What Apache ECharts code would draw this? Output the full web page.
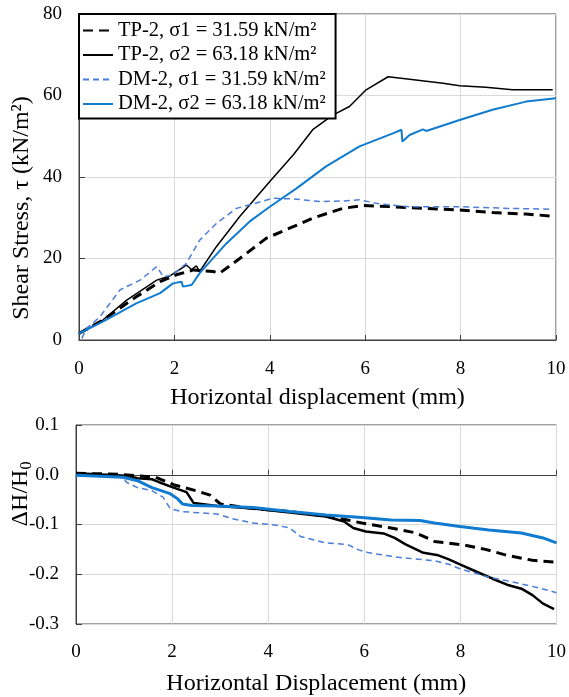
<!DOCTYPE html>
<html>
<head>
<meta charset="utf-8">
<script src="https://cdn.jsdelivr.net/npm/echarts@6/dist/echarts.min.js"></script>
<style>
  html, body { margin: 0; padding: 0; background: #fff; }
  #chart { width: 569px; height: 697px; }
</style>
</head>
<body>
<div id="chart"></div>
<script>
// series names
const names = [
    'TP-2, σ1 = 31.59 kN/m²',
    'TP-2, σ2 = 63.18 kN/m²',
    'DM-2, σ1 = 31.59 kN/m²',
    'DM-2, σ2 = 63.18 kN/m²'
];

const xTicks = [0, 2, 4, 6, 8, 10];

// shear stress (kN/m2) vs horizontal displacement (mm)
const tauTP1 = [[0, 1.6], [0.5, 4.9], [1.2, 10.6], [1.7, 14.3], [2.04, 16.0], [2.4, 17.2], [2.81, 16.8],
    [2.95, 16.4], [3.37, 20.0], [3.93, 25.0], [4.49, 27.8], [4.9, 29.9], [5.53, 32.3], [5.95, 33.0],
    [6.58, 32.7], [7.28, 32.3], [7.98, 31.9], [8.67, 31.3], [9.37, 30.9], [9.93, 30.4]];
const tauTP2 = [[0, 1.5], [0.5, 4.9], [1.0, 9.8], [1.63, 14.7], [1.9, 15.7], [2.25, 18.4], [2.36, 17.3],
    [2.46, 18.2], [2.53, 16.8], [2.88, 22.9], [3.37, 30.3], [4.0, 38.9], [4.49, 45.4], [4.9, 51.6],
    [5.32, 55.2], [5.67, 57.3], [6.02, 61.4], [6.48, 64.6], [6.93, 64.0], [7.63, 63.0], [7.98, 62.4],
    [8.53, 62.0], [9.09, 61.4], [9.93, 61.4]];
const tauDM1 = [[0.06, 0.4], [0.16, 2.9], [0.44, 5.7], [0.86, 12.3], [1.28, 14.7], [1.63, 18.0], [1.77, 15.5],
    [1.97, 16.0], [2.25, 18.8], [2.53, 24.5], [2.88, 28.6], [3.3, 32.3], [3.65, 33.4], [4.07, 34.8],
    [4.49, 34.6], [5.05, 34.0], [5.53, 34.1], [5.88, 34.4], [6.3, 33.4], [6.93, 32.7], [7.98, 32.7],
    [9.02, 32.3], [9.93, 32.1]];
const tauDM2 = [[0, 1.6], [0.5, 4.5], [1.2, 9.0], [1.7, 11.5], [1.97, 13.9], [2.15, 14.3], [2.18, 13.1],
    [2.36, 13.5], [2.53, 16.4], [3.09, 23.7], [3.58, 29.1], [4.0, 32.7], [4.56, 37.2], [5.18, 42.6],
    [5.88, 47.5], [6.58, 50.7], [6.76, 51.6], [6.78, 48.7], [6.93, 50.3], [7.21, 51.7], [7.28, 51.3],
    [7.98, 54.0], [8.67, 56.5], [9.37, 58.5], [10.0, 59.3]];

// dH/H0 vs horizontal displacement (mm)
const dhTP1 = [[0, 0.003], [0.9, 0.001], [1.66, -0.005], [2.03, -0.02], [2.49, -0.032], [2.79, -0.041],
    [3.01, -0.059], [3.69, -0.068], [4.45, -0.074], [5.2, -0.083], [5.65, -0.091], [5.95, -0.097],
    [6.56, -0.107], [7.08, -0.117], [7.46, -0.134], [8.06, -0.141], [8.52, -0.15], [8.97, -0.162],
    [9.5, -0.172], [10, -0.176]];
const dhTP2 = [[0, 0.003], [1.05, -0.002], [1.28, -0.007], [1.58, -0.009], [1.73, -0.015], [2.03, -0.026],
    [2.3, -0.035], [2.45, -0.057], [2.49, -0.059], [2.94, -0.063], [3.69, -0.068], [4.45, -0.076],
    [5.2, -0.084], [5.58, -0.094], [5.77, -0.107], [6.03, -0.114], [6.4, -0.118], [6.63, -0.127],
    [6.86, -0.14], [7.23, -0.157], [7.54, -0.162], [7.76, -0.17], [7.99, -0.18], [8.36, -0.196],
    [8.67, -0.209], [8.97, -0.221], [9.27, -0.229], [9.5, -0.242], [9.72, -0.259], [9.95, -0.27]];
const dhDM1 = [[0, -0.001], [0.98, -0.005], [1.05, -0.015], [1.28, -0.026], [1.58, -0.032], [1.81, -0.045],
    [1.96, -0.068], [2.19, -0.074], [2.94, -0.079], [3.24, -0.088], [3.69, -0.097], [4.14, -0.101],
    [4.45, -0.107], [4.67, -0.124], [5.2, -0.137], [5.65, -0.14], [5.88, -0.151], [6.1, -0.157],
    [6.71, -0.166], [7.46, -0.173], [7.76, -0.18], [7.99, -0.189], [8.59, -0.206], [8.97, -0.213],
    [9.57, -0.226], [10, -0.237]];
const dhDM2 = [[0, -0.001], [0.98, -0.005], [1.28, -0.012], [1.58, -0.026], [1.96, -0.038], [2.11, -0.048],
    [2.22, -0.059], [2.41, -0.062], [2.94, -0.063], [3.69, -0.066], [4.45, -0.074], [5.2, -0.081],
    [5.95, -0.086], [6.56, -0.091], [7.16, -0.092], [7.46, -0.097], [7.99, -0.104], [8.59, -0.111],
    [9.27, -0.117], [9.72, -0.127], [10, -0.137]];

const serif = '"Liberation Serif", "Times New Roman", serif';
const axisColor = '#404040';
const gridColor = '#d9d9d9';
const black = '#000000';
const blueDash = '#4a7ed8';
const blueSolid = '#107bcf';

function xAxisOpt(idx, name, gap, margin) {
    return {
        type: 'value', gridIndex: idx, min: 0, max: 10, interval: 2,
        name: name, nameLocation: 'middle', nameGap: gap,
        nameTextStyle: { fontFamily: serif, fontSize: 24, color: black },
        axisLine: { show: true, lineStyle: { color: axisColor, width: 1 } },
        axisTick: { show: true, inside: true, length: 5, lineStyle: { color: axisColor } },
        axisLabel: { fontFamily: serif, fontSize: 19, color: black, margin: margin,
            formatter: v => xTicks.includes(v) ? String(v) : '' },
        splitLine: { show: true, lineStyle: { color: gridColor, width: 1 } }
    };
}

function yAxisOpt(idx, min, max, interval, fmt) {
    return {
        type: 'value', gridIndex: idx, min: min, max: max, interval: interval,
        axisLine: { show: true, lineStyle: { color: axisColor, width: 1 } },
        axisTick: { show: true, inside: true, length: 6, lineStyle: { color: axisColor } },
        axisLabel: { fontFamily: serif, fontSize: 19, color: black, margin: 17, formatter: fmt },
        splitLine: { show: true, lineStyle: { color: gridColor, width: 1 } }
    };
}

function line(name, data, idx, color, width, dash) {
    return {
        name: name, type: 'line', xAxisIndex: idx, yAxisIndex: idx, data: data,
        showSymbol: false, symbol: 'none', smooth: false,
        lineStyle: { color: color, width: width, type: dash || 'solid' },
        itemStyle: { color: color }
    };
}

var myChart = echarts.init(document.getElementById('chart'), null, { renderer: 'canvas' });
let option = {
    animation: false,
    backgroundColor: '#ffffff',
    grid: [
        { left: 79, right: 13, top: 14, height: 326, show: true, borderColor: axisColor, borderWidth: 1 },
        { left: 76, right: 11, top: 425, height: 204, show: true, borderColor: axisColor, borderWidth: 1 }
    ],
    legend: {
        data: names,
        orient: 'vertical',
        left: 79, top: 14,
        padding: [6, 10, 4, 3],
        itemWidth: 30, itemHeight: 20, itemGap: 3.5,
        backgroundColor: '#ffffff',
        borderColor: black, borderWidth: 2, borderRadius: 0,
        itemStyle: { opacity: 0 },
        textStyle: { fontFamily: serif, fontSize: 20.5, color: black, lineHeight: 20 },
        selectedMode: false
    },
    xAxis: [
        xAxisOpt(0, 'Horizontal displacement (mm)', 46, 20),
        xAxisOpt(1, 'Horizontal Displacement (mm)', 48, 19)
    ],
    yAxis: [
        yAxisOpt(0, 0, 80, 20, v => String(v)),
        yAxisOpt(1, -0.3, 0.1, 0.1, v => (Math.abs(v) < 1e-9 ? 0 : v).toFixed(1))
    ],
    graphic: [
        {
            type: 'text', x: 22, y: 208, rotation: Math.PI / 2,
            style: { text: 'Shear Stress, τ (kN/m²)', fontFamily: serif, fontSize: 24, fill: black,
                align: 'center', verticalAlign: 'middle' }
        },
        {
            type: 'text', x: 21, y: 494, rotation: Math.PI / 2,
            style: {
                text: '{a|ΔH/H}{b|0}', align: 'center', verticalAlign: 'middle',
                rich: {
                    a: { fontFamily: serif, fontSize: 24, fill: black, color: black },
                    b: { fontFamily: serif, fontSize: 16, fill: black, color: black, padding: [12, 0, 0, 0] }
                }
            }
        }
    ],
    series: [
        line(names[0], tauTP1, 0, black, 3, [10, 6]),
        line(names[1], tauTP2, 0, black, 1.5),
        line(names[2], tauDM1, 0, blueDash, 1.5, [6, 4]),
        line(names[3], tauDM2, 0, blueSolid, 2),
        line(names[0], dhTP1, 1, black, 3, [10, 6]),
        line(names[1], dhTP2, 1, black, 2.5),
        line(names[2], dhDM1, 1, blueDash, 1.5, [6, 4]),
        line(names[3], dhDM2, 1, blueSolid, 3)
    ]
};
myChart.setOption(option);
</script>
</body>
</html>
